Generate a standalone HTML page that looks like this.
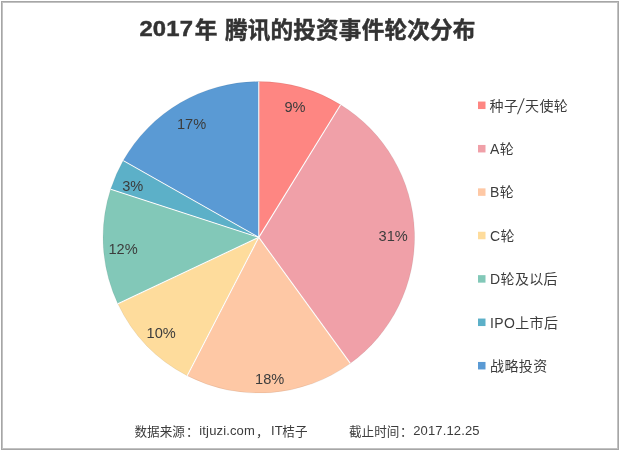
<!DOCTYPE html>
<html lang="zh-CN"><head><meta charset="utf-8"><title>2017年 腾讯的投资事件轮次分布</title>
<style>
html,body{margin:0;padding:0;background:#fff;}
body{width:620px;height:451px;overflow:hidden;}
svg{display:block;}
text{font-family:"Liberation Sans","Noto Sans CJK SC",sans-serif;fill:#3c3c3c;}
.title{font-size:22.6px;font-weight:bold;fill:#333;stroke:#333;stroke-width:0.45px;}
.num{font-size:22.4px;letter-spacing:0.2px;}
.dl{font-size:14.6px;}
.lg{font-size:14px;letter-spacing:0.35px;}
.ft{font-size:12.6px;}
.la{font-size:13px;letter-spacing:0.15px;}
</style></head><body>
<svg width="620" height="451" viewBox="0 0 620 451">
<rect x="0" y="0" width="620" height="451" fill="#fff"/>
<rect x="1.5" y="1.5" width="617" height="448" fill="none" stroke="#a6a6a6" stroke-width="1"/>
<rect x="2.5" y="2.5" width="615" height="446" fill="none" stroke="#c2c2c2" stroke-width="1"/>
<path d="M258.8,237.35 L258.80,81.60 A155.75,155.75 0 0 1 340.60,104.81 Z" fill="#FE8682" stroke="#000" stroke-opacity="0.09" stroke-width="0.7"/>
<path d="M258.8,237.35 L340.60,104.81 A155.75,155.75 0 0 1 350.35,363.35 Z" fill="#F0A0A8" stroke="#000" stroke-opacity="0.09" stroke-width="0.7"/>
<path d="M258.8,237.35 L350.35,363.35 A155.75,155.75 0 0 1 187.22,375.68 Z" fill="#FEC8A5" stroke="#000" stroke-opacity="0.09" stroke-width="0.7"/>
<path d="M258.8,237.35 L187.22,375.68 A155.75,155.75 0 0 1 117.87,303.67 Z" fill="#FEDC9C" stroke="#000" stroke-opacity="0.09" stroke-width="0.7"/>
<path d="M258.8,237.35 L117.87,303.67 A155.75,155.75 0 0 1 110.67,189.22 Z" fill="#82C8B8" stroke="#000" stroke-opacity="0.09" stroke-width="0.7"/>
<path d="M258.8,237.35 L110.67,189.22 A155.75,155.75 0 0 1 123.27,160.61 Z" fill="#5CB0C8" stroke="#000" stroke-opacity="0.09" stroke-width="0.7"/>
<path d="M258.8,237.35 L123.27,160.61 A155.75,155.75 0 0 1 258.80,81.60 Z" fill="#5A9AD4" stroke="#000" stroke-opacity="0.09" stroke-width="0.7"/>
<g stroke="#fff" stroke-width="1.05" stroke-linecap="butt">
<line x1="258.8" y1="237.35" x2="258.80" y2="81.60"/>
<line x1="258.8" y1="237.35" x2="340.60" y2="104.81"/>
<line x1="258.8" y1="237.35" x2="350.35" y2="363.35"/>
<line x1="258.8" y1="237.35" x2="187.22" y2="375.68"/>
<line x1="258.8" y1="237.35" x2="117.87" y2="303.67"/>
<line x1="258.8" y1="237.35" x2="110.67" y2="189.22"/>
<line x1="258.8" y1="237.35" x2="123.27" y2="160.61"/>
</g>
<g class="t">
<text class="title num" transform="translate(139.4,36.3) scale(1.065,1)">2017</text><text class="title" x="194.8" y="37.5">年<tspan x="225.0" letter-spacing="0.18">腾讯的投资事件轮次分布</tspan></text>
<text class="dl" x="295.0" y="112.0" text-anchor="middle">9%</text>
<text class="dl" x="393.2" y="240.5" text-anchor="middle">31%</text>
<text class="dl" x="269.7" y="383.8" text-anchor="middle">18%</text>
<text class="dl" x="161.2" y="337.7" text-anchor="middle">10%</text>
<text class="dl" x="123.1" y="254.3" text-anchor="middle">12%</text>
<text class="dl" x="132.8" y="191.1" text-anchor="middle">3%</text>
<text class="dl" x="191.6" y="129.2" text-anchor="middle">17%</text>
<rect x="478" y="101.55" width="7.5" height="7.5" fill="#FE8682"/>
<text class="lg" x="489.6" y="110.6">种子<tspan x="525.1">天使轮</tspan></text>
<text class="lg" transform="translate(517.0,114.0) skewX(-13.5) scale(1,1.55)">/</text>
<rect x="478" y="144.95" width="7.5" height="7.5" fill="#F0A0A8"/>
<text class="lg" x="490.1" y="154.0">A轮</text>
<rect x="478" y="188.35" width="7.5" height="7.5" fill="#FEC8A5"/>
<text class="lg" x="490.1" y="197.4">B轮</text>
<rect x="478" y="231.75" width="7.5" height="7.5" fill="#FEDC9C"/>
<text class="lg" x="490.1" y="240.8">C轮</text>
<rect x="478" y="275.15" width="7.5" height="7.5" fill="#82C8B8"/>
<text class="lg" x="490.1" y="284.2">D轮及以后</text>
<rect x="478" y="318.55" width="7.5" height="7.5" fill="#5CB0C8"/>
<text class="lg" x="490.1" y="327.6">IPO上市后</text>
<rect x="478" y="361.95" width="7.5" height="7.5" fill="#5A9AD4"/>
<text class="lg" x="490.1" y="371.0">战略投资</text>
<text class="ft" x="134.5" y="435.6">数据来源<tspan dx="1.1">：</tspan><tspan class="la" x="199.3" y="434.7" letter-spacing="0.31">itjuzi.com</tspan><tspan x="255.9" y="435.6">，</tspan><tspan class="la" x="270.9" y="434.7" letter-spacing="-0.5">IT</tspan><tspan x="282.3" y="435.6">桔子</tspan></text>
<text class="ft" x="349" y="435.6">截止时间<tspan dx="0.7">：</tspan><tspan class="la" x="413.2" y="434.7">2017.12.25</tspan></text>
</g></svg>
</body></html>
